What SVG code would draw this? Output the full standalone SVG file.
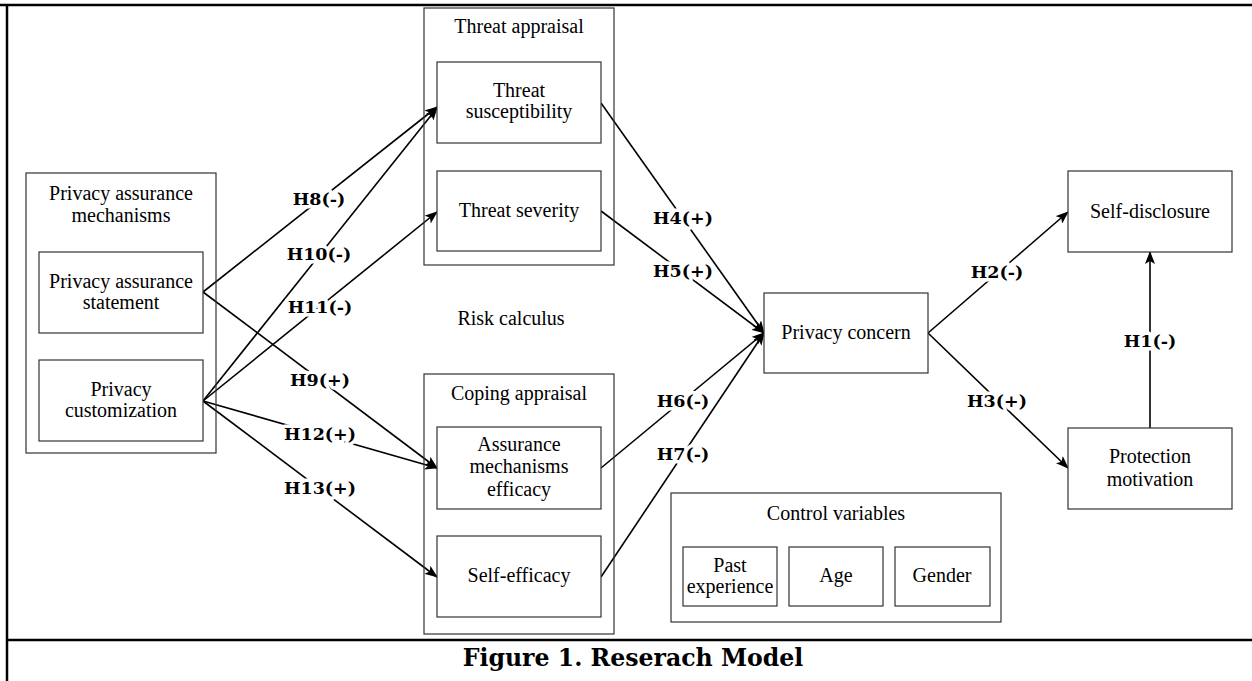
<svg xmlns="http://www.w3.org/2000/svg" width="1252" height="681" viewBox="0 0 1252 681">
<defs>
<marker id="arr" markerWidth="13" markerHeight="10" refX="12" refY="5" orient="auto" markerUnits="userSpaceOnUse">
<path d="M0,0 L13,5 L0,10 L3,5 Z" fill="#000"/>
</marker>
<style>
.box{fill:#fff;stroke:#333;stroke-width:1.2}
.grp{fill:none;stroke:#333;stroke-width:1.2}
.t{font-family:"Liberation Serif","DejaVu Serif",serif;font-size:20px;fill:#000;text-anchor:middle}
.h{font-family:"DejaVu Serif","Liberation Serif",serif;font-size:17.5px;font-weight:bold;fill:#000;text-anchor:middle;stroke:#fff;stroke-width:7;paint-order:stroke;stroke-linejoin:round}
.c{fill:none;stroke:#000;stroke-width:1.6;marker-end:url(#arr)}
.frame{fill:none;stroke:#000;stroke-width:2.5}
.cap{font-family:"DejaVu Serif","Liberation Serif",serif;font-size:23.6px;font-weight:bold;fill:#000;text-anchor:middle}
</style>
</defs>
<rect width="1252" height="681" fill="#fff"/>
<g id="frame">
<line class="frame" x1="0" y1="5" x2="1252" y2="5"/>
<line class="frame" x1="7" y1="4" x2="7" y2="681"/>
<line class="frame" x1="7" y1="640" x2="1252" y2="640"/>
<text class="cap" x="633" y="666">Figure 1. Reserach Model</text>
</g>
<g id="connectors">
<line class="c" x1="203" y1="292" x2="437" y2="107"/>
<line class="c" x1="203" y1="401" x2="437" y2="108"/>
<line class="c" x1="203" y1="401" x2="437" y2="212"/>
<line class="c" x1="203" y1="292" x2="437" y2="468"/>
<line class="c" x1="203" y1="401" x2="437" y2="468"/>
<line class="c" x1="203" y1="401" x2="437" y2="577"/>
<line class="c" x1="601" y1="103" x2="764" y2="333"/>
<line class="c" x1="601" y1="211" x2="764" y2="333"/>
<line class="c" x1="601" y1="468" x2="764" y2="333"/>
<line class="c" x1="601" y1="577" x2="764" y2="333"/>
<line class="c" x1="928" y1="333" x2="1068" y2="212"/>
<line class="c" x1="928" y1="333" x2="1068" y2="468"/>
<line class="c" x1="1150" y1="428" x2="1150" y2="252"/>
<text class="h" x="319" y="205">H8(-)</text>
<text class="h" x="319" y="260">H10(-)</text>
<text class="h" x="320" y="313">H11(-)</text>
<text class="h" x="320" y="386">H9(+)</text>
<text class="h" x="320" y="440">H12(+)</text>
<text class="h" x="320" y="494">H13(+)</text>
<text class="h" x="683" y="224">H4(+)</text>
<text class="h" x="683" y="277">H5(+)</text>
<text class="h" x="683" y="407">H6(-)</text>
<text class="h" x="683" y="460">H7(-)</text>
<text class="h" x="997" y="278">H2(-)</text>
<text class="h" x="997" y="407">H3(+)</text>
<text class="h" x="1150" y="347">H1(-)</text>
</g>
<g id="privacy-assurance-mechanisms">
<rect class="grp" x="26" y="173" width="190" height="280"/>
<text class="t" x="121" y="200">Privacy assurance</text>
<text class="t" x="121" y="222">mechanisms</text>
</g>
<g id="privacy-assurance-statement">
<rect class="box" x="39" y="252" width="164" height="81"/>
<text class="t" x="121" y="288">Privacy assurance</text>
<text class="t" x="121" y="309">statement</text>
</g>
<g id="privacy-customization">
<rect class="box" x="39" y="360" width="164" height="81"/>
<text class="t" x="121" y="396">Privacy</text>
<text class="t" x="121" y="417">customization</text>
</g>
<g id="threat-appraisal">
<rect class="grp" x="424" y="8" width="190" height="257"/>
<text class="t" x="519" y="33">Threat appraisal</text>
</g>
<g id="threat-susceptibility">
<rect class="box" x="437" y="62" width="164" height="81"/>
<text class="t" x="519" y="97">Threat</text>
<text class="t" x="519" y="118">susceptibility</text>
</g>
<g id="threat-severity">
<rect class="box" x="437" y="171" width="164" height="80"/>
<text class="t" x="519" y="217">Threat severity</text>
</g>
<g id="risk-calculus">
<text class="t" x="511" y="325">Risk calculus</text>
</g>
<g id="coping-appraisal">
<rect class="grp" x="424" y="374" width="190" height="260"/>
<text class="t" x="519" y="400">Coping appraisal</text>
</g>
<g id="assurance-mechanisms-efficacy">
<rect class="box" x="437" y="427" width="164" height="82"/>
<text class="t" x="519" y="451">Assurance</text>
<text class="t" x="519" y="473">mechanisms</text>
<text class="t" x="519" y="496">efficacy</text>
</g>
<g id="self-efficacy">
<rect class="box" x="437" y="536" width="164" height="81"/>
<text class="t" x="519" y="582">Self-efficacy</text>
</g>
<g id="privacy-concern">
<rect class="box" x="764" y="293" width="164" height="80"/>
<text class="t" x="846" y="339">Privacy concern</text>
</g>
<g id="self-disclosure">
<rect class="box" x="1068" y="171" width="164" height="81"/>
<text class="t" x="1150" y="218">Self-disclosure</text>
</g>
<g id="protection-motivation">
<rect class="box" x="1068" y="428" width="164" height="81"/>
<text class="t" x="1150" y="463">Protection</text>
<text class="t" x="1150" y="486">motivation</text>
</g>
<g id="control-variables">
<rect class="grp" x="671" y="493" width="330" height="129"/>
<text class="t" x="836" y="520">Control variables</text>
</g>
<g id="past-experience">
<rect class="box" x="683" y="547" width="94" height="59"/>
<text class="t" x="730" y="572">Past</text>
<text class="t" x="730" y="593">experience</text>
</g>
<g id="age">
<rect class="box" x="789" y="547" width="94" height="59"/>
<text class="t" x="836" y="582">Age</text>
</g>
<g id="gender">
<rect class="box" x="895" y="547" width="95" height="59"/>
<text class="t" x="942" y="582">Gender</text>
</g>
</svg>
